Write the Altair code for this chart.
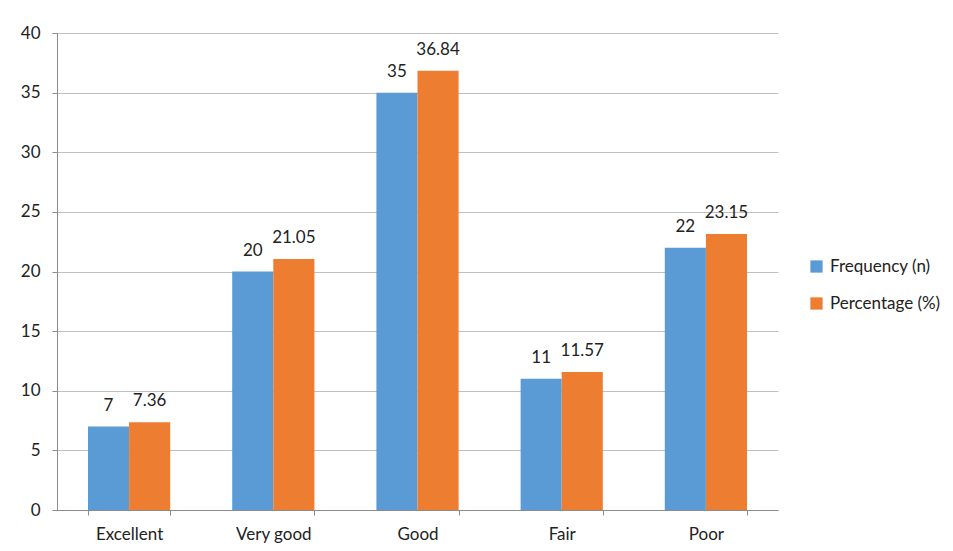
import altair as alt
import pandas as pd

categories = ["Excellent", "Very good", "Good", "Fair", "Poor"]
frequency = [7, 20, 35, 11, 22]
percentage = [7.36, 21.05, 36.84, 11.57, 23.15]
series = ["Frequency (n)", "Percentage (%)"]
colors = ["#5B9BD5", "#ED7D31"]

rows = []
for c, f, p in zip(categories, frequency, percentage):
    rows.append({"cat": c, "series": series[0], "value": f, "label": f"{f}"})
    rows.append({"cat": c, "series": series[1], "value": p, "label": f"{p:.2f}"})
df = pd.DataFrame(rows)

FONT = "Lato"
FS = 17

base = alt.Chart(df).encode(
    x=alt.X("cat:N", sort=categories, title=None,
            scale=alt.Scale(paddingInner=0.43, paddingOuter=0.215),
            axis=alt.Axis(labelAngle=0, tickBand="extent", labelFontSize=FS,
                          labelFont=FONT, labelColor="#222222", labelPadding=11,
                          domainColor="#8c8c8c", tickColor="#8c8c8c", tickSize=5)),
    xOffset=alt.XOffset("series:N", sort=series),
)

bars = base.mark_bar().encode(
    y=alt.Y("value:Q", title=None,
            scale=alt.Scale(domain=[0, 40], nice=False),
            axis=alt.Axis(values=list(range(0, 45, 5)), labelFontSize=FS,
                          labelFont=FONT, labelColor="#222222", labelPadding=12,
                          domainColor="#8c8c8c", tickColor="#8c8c8c", tickSize=5,
                          gridColor="#c0c0c0")),
    color=alt.Color("series:N", sort=series,
                    scale=alt.Scale(domain=series, range=colors),
                    legend=alt.Legend(title=None, orient="none", legendX=751, legendY=225,
                                      symbolType="square", symbolSize=150,
                                      symbolStrokeWidth=0, labelFontSize=FS,
                                      labelFont=FONT, labelColor="#222222",
                                      rowPadding=19, labelOffset=5)),
)

text = base.mark_text(dy=-21, fontSize=FS, font=FONT, color="#222222").encode(
    y=alt.Y("value:Q"),
    text="label:N",
)

chart = (bars + text).properties(
    width=721, height=477,
    autosize=alt.AutoSizeParams(type="none"),
    padding={"left": 49, "top": 25, "right": 167, "bottom": 33},
).configure_view(stroke=None).configure_axis(grid=False).configure_axisY(grid=True)

chart.save("out.html", embed_options={"renderer": "svg", "actions": False})
